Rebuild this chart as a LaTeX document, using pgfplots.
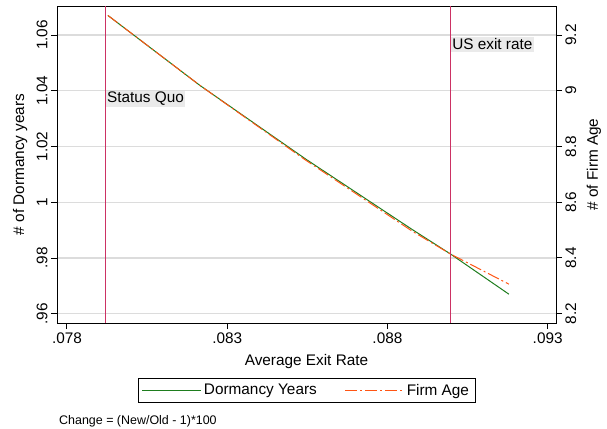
\documentclass[border=0pt]{standalone}
\usepackage{pgfplots}
\pgfplotsset{compat=1.18}
\usepackage{fontspec}
\setmainfont{Liberation Sans}
\definecolor{dgreen}{RGB}{30,125,30}
\definecolor{orng}{RGB}{255,85,20}
\definecolor{refline}{RGB}{204,50,100}
\definecolor{gridc}{RGB}{220,220,220}
\definecolor{boxc}{RGB}{234,234,234}
\pgfplotstableread{
x y
0.07928 1.0670
0.08215 1.0419
0.08546 1.0154
0.08876 0.9903
0.08997 0.9814
0.09179 0.9670
}\dormancy
\pgfplotstableread{
x y
0.07928 9.270
0.08215 9.019
0.08546 8.750
0.08876 8.497
0.08997 8.414
0.09179 8.306
}\firmage
\begin{document}
\begin{tikzpicture}
\useasboundingbox (-57bp,-106bp) rectangle (550bp,323bp);
\begin{axis}[
  scale only axis, width=499bp, height=317bp,
  xmin=0.07769, xmax=0.09326, ymin=0.95666, ymax=1.0704,
  clip=false,
  font=\fontsize{15.4}{18}\selectfont,
  /pgf/number format/assume math mode=true,
  axis line style={black, line width=0.9bp},
  xtick={0.078,0.083,0.088,0.093},
  xticklabels={.078,.083,.088,.093},
  ytick={0.96,0.98,1,1.02,1.04,1.06},
  yticklabels={.96,.98,1,1.02,1.04,1.06},
  xtick pos=bottom, ytick pos=left,
  tick align=outside, major tick length=6bp,
  tick style={black, line width=0.9bp},
  scaled x ticks=false, scaled y ticks=false,
  ymajorgrids, grid style={gridc, line width=1.1bp},
  yticklabel style={rotate=90, anchor=south},
  xticklabel style={anchor=north},
  xlabel={Average Exit Rate},
  ylabel={\# of Dormancy years},
  xlabel style={at={(axis description cs:0.5,-0.12)}, anchor=center},
  ylabel style={at={(axis description cs:-0.074,0.5)}, anchor=center},
  legend style={at={(axis description cs:0.5,-0.172)}, anchor=north,
    legend columns=2, line width=0.8bp, inner xsep=4bp, inner ysep=4bp,
    font=\fontsize{15.4}{18}\selectfont,
    /tikz/every even column/.append style={column sep=26bp}},
  legend image code/.code={\draw (0bp,0bp) -- (59bp,0bp);},
]
\addplot[color=dgreen, line width=1bp] table[x=x,y=y] {\dormancy};
\addlegendentry{Dormancy Years}
\addlegendimage{color=orng, line width=1bp, dash pattern=on 12bp off 3bp on 2bp off 3bp}
\addlegendentry{Firm Age}
\addplot[color=refline, line width=1.4bp, forget plot] coordinates {(0.08997,0.95666) (0.08997,1.0704)};
\addplot[color=refline, line width=1.7bp, forget plot] coordinates {(0.0792,0.95666) (0.0792,1.0704)};
\node[fill=boxc, anchor=west, inner sep=1.5bp] at (axis cs:0.0792,1.0371) {Status Quo};
\node[fill=boxc, anchor=west, inner sep=1.5bp] at (axis cs:0.08997,1.0566) {US exit rate};
\node[anchor=west, inner sep=0pt, font=\fontsize{12.5}{14}\selectfont] at (axis description cs:0.004,-0.31) {Change = (New/Old - 1)*100};
\end{axis}
\begin{axis}[
  scale only axis, width=499bp, height=317bp,
  xmin=0.07769, xmax=0.09326, ymin=8.1666, ymax=9.304,
  axis x line=none, axis y line*=right,
  font=\fontsize{15.4}{18}\selectfont,
  /pgf/number format/assume math mode=true,
  axis line style={black, line width=0.9bp},
  ytick={8.2,8.4,8.6,8.8,9,9.2},
  yticklabels={8.2,8.4,8.6,8.8,9,9.2},
  tick align=outside, major tick length=6bp,
  tick style={black, line width=0.9bp},
  yticklabel style={rotate=90, anchor=north},
  ylabel={\# of Firm Age},
  ylabel style={at={(axis description cs:1.076,0.5)}, anchor=center, rotate=0},
]
\addplot[color=orng, line width=1bp, dash pattern=on 12bp off 3bp on 2bp off 3bp] table[x=x,y=y] {\firmage};
\end{axis}
\end{tikzpicture}
\end{document}
